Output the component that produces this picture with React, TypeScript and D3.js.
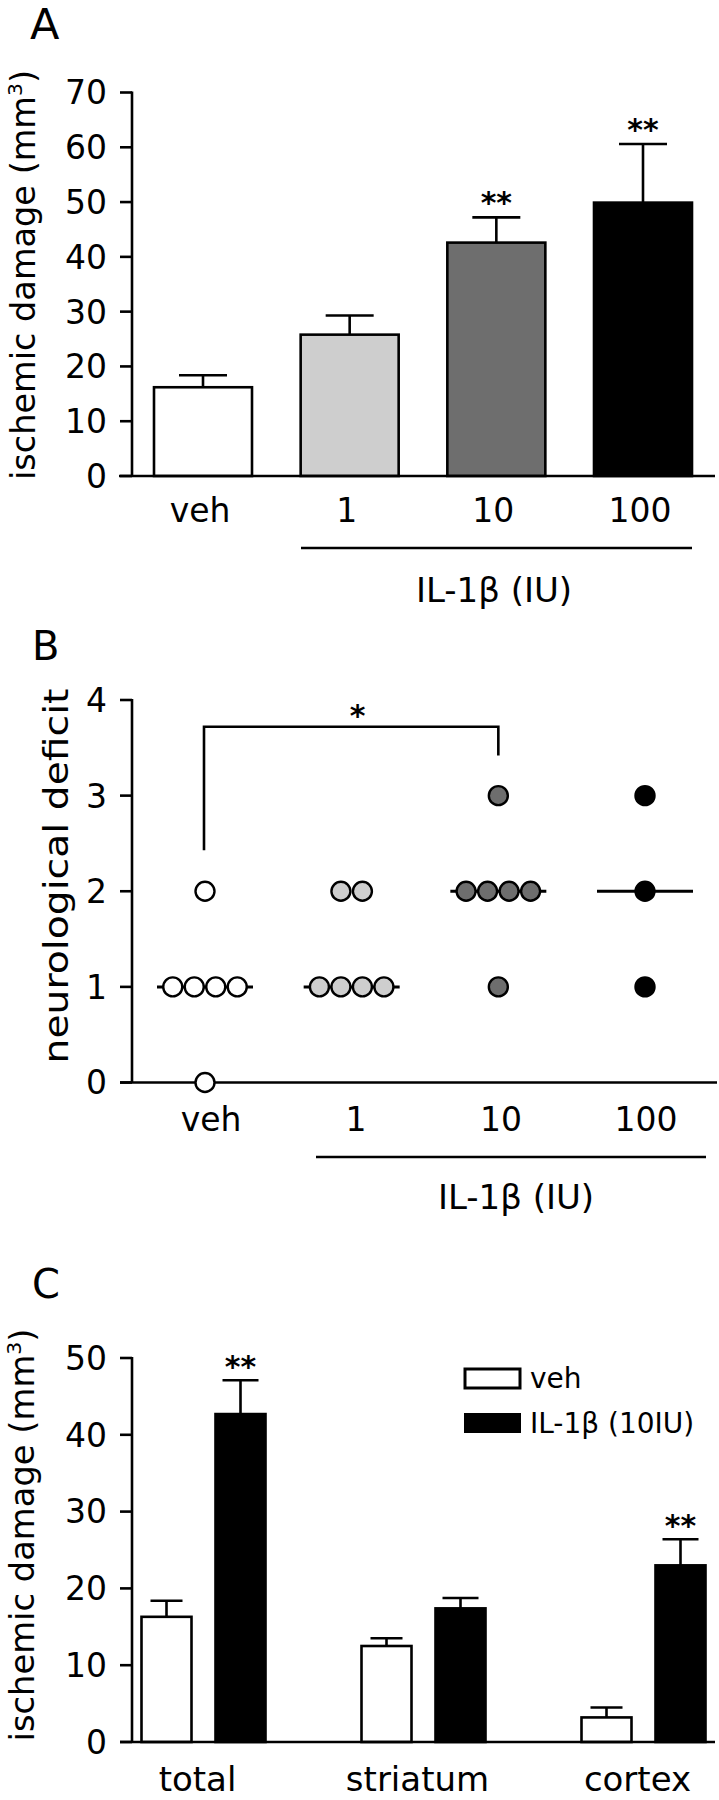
import React from "react";
import * as d3 from "d3";

// ---------- Panel A data ----------
const doseCats = ["veh", "1", "10", "100"];
const damageMean = [16.2, 25.8, 42.6, 49.9];
const damageSem = [2.2, 3.5, 4.6, 10.7];
const damageSig = ["", "", "**", "**"];
const damageTicks = [0, 10, 20, 30, 40, 50, 60, 70];
const doseFills = ["#ffffff", "#cecece", "#6e6e6e", "#000000"];

// ---------- Panel B data ----------
const scoreVeh = [2, 1, 1, 1, 1, 0];
const score1 = [2, 2, 1, 1, 1, 1];
const score10 = [3, 2, 2, 2, 2, 1];
const score100 = [3, 2, 1];
const scoreMedian = [1, 1, 2, 2];
const scoreTicks = [0, 1, 2, 3, 4];

// ---------- Panel C data ----------
const regions = ["total", "striatum", "cortex"];
const vehMean = [16.3, 12.5, 3.2];
const vehSem = [2.1, 1.0, 1.3];
const ilMean = [42.7, 17.4, 23.0];
const ilSem = [4.4, 1.35, 3.4];
const regionSig = ["**", "", "**"];
const regionTicks = [0, 10, 20, 30, 40, 50];

const FONT = "'DejaVu Sans', Verdana, sans-serif";
const SW = 2.6;
const TICK_FS = 33;

export default function App() {
  // scales
  const yA = d3.scaleLinear().domain([0, 70]).range([476, 92.5]);
  const xA = d3.scalePoint<string>().domain(doseCats).range([203, 643]);
  const barWA = 98;

  const yB = d3.scaleLinear().domain([0, 4]).range([1082.5, 700]);
  const xB = d3.scalePoint<string>().domain(doseCats).range([205, 645]);
  const xBLab = d3.scalePoint<string>().domain(doseCats).range([211, 646]);
  const scores = [scoreVeh, score1, score10, score100];

  const yC = d3.scaleLinear().domain([0, 50]).range([1742, 1358]);
  const xC = d3.scalePoint<string>().domain(regions).range([203.5, 643.5]);
  const barWC = 50;
  const offC = 37;

  const axisX0 = 132;

  const yTitle = (cx: number, cy: number, len: number, fs: number, content: React.ReactNode) => (
    <text
      transform={`translate(${cx},${cy}) rotate(-90)`}
      textAnchor="middle"
      fontSize={fs}
      fontFamily={FONT}
      textLength={len}
      lengthAdjust="spacingAndGlyphs"
    >
      {content}
    </text>
  );

  const mm3 = (
    <>
      ischemic damage (mm<tspan dy={-13} fontSize={20}>3</tspan>
      <tspan dy={13}>)</tspan>
    </>
  );

  const yAxis = (scale: d3.ScaleLinear<number, number>, ticks: number[], fs: number) => (
    <g>
      <line x1={axisX0} x2={axisX0} y1={scale(ticks[ticks.length - 1]) - 1} y2={scale(0)} stroke="#000" strokeWidth={SW} />
      {ticks.map((t) => (
        <g key={t}>
          <line x1={axisX0 - 12} x2={axisX0} y1={scale(t)} y2={scale(t)} stroke="#000" strokeWidth={SW} />
          <text x={107} y={scale(t)} dy="0.36em" textAnchor="end" fontSize={fs} fontFamily={FONT}>
            {t}
          </text>
        </g>
      ))}
    </g>
  );

  const errBar = (x: number, yTop: number, yBase: number, half: number, key: string) => (
    <g key={key}>
      <line x1={x} x2={x} y1={yBase} y2={yTop} stroke="#000" strokeWidth={SW} />
      <line x1={x - half} x2={x + half} y1={yTop} y2={yTop} stroke="#000" strokeWidth={SW} />
    </g>
  );

  return (
    <svg
      width={719}
      height={1800}
      viewBox="0 0 719 1800"
      style={{ position: "absolute", left: 0, top: 0, background: "#fff" }}
    >
      <rect x={0} y={0} width={719} height={1800} fill="#fff" />

      {/* ================= Panel A ================= */}
      <text x={30} y={39} fontSize={43} fontFamily={FONT}>A</text>
      {yTitle(35, 275, 410, 33, mm3)}
      {yAxis(yA, damageTicks, TICK_FS)}
      {doseCats.map((c, i) => {
        const x = xA(c)!;
        return (
          <g key={c}>
            {errBar(x, yA(damageMean[i] + damageSem[i]), yA(damageMean[i]), 24, "e" + c)}
            <rect
              x={x - barWA / 2}
              y={yA(damageMean[i])}
              width={barWA}
              height={yA(0) - yA(damageMean[i])}
              fill={doseFills[i]}
              stroke="#000"
              strokeWidth={SW}
            />
            {damageSig[i] && (
              <text x={x} y={yA(damageMean[i] + damageSem[i]) - 4} textAnchor="middle" fontSize={30} fontWeight="bold" fontFamily={FONT}>
                {damageSig[i]}
              </text>
            )}
            <text x={x - 3} y={522} textAnchor="middle" fontSize={33} fontFamily={FONT}>
              {c}
            </text>
          </g>
        );
      })}
      <line x1={119} x2={715} y1={yA(0)} y2={yA(0)} stroke="#000" strokeWidth={SW} />
      <line x1={301} x2={692} y1={548} y2={548} stroke="#000" strokeWidth={SW} />
      <text x={494} y={602} textAnchor="middle" fontSize={34} fontFamily={FONT}>IL-1β (IU)</text>

      {/* ================= Panel B ================= */}
      <text x={32} y={660} fontSize={40} fontFamily={FONT}>B</text>
      {yTitle(68, 876, 375, 34, "neurological deficit")}
      {yAxis(yB, scoreTicks, TICK_FS)}
      <line x1={120} x2={717} y1={yB(0)} y2={yB(0)} stroke="#000" strokeWidth={SW} />
      {doseCats.map((c, gi) => {
        const cx = xB(c)!;
        const vals = scores[gi];
        const levels = Array.from(new Set(vals));
        return (
          <g key={"b" + c}>
            <line x1={cx - 48} x2={cx + 48} y1={yB(scoreMedian[gi])} y2={yB(scoreMedian[gi])} stroke="#000" strokeWidth={3} />
            {levels.map((lv) => {
              const n = vals.filter((v) => v === lv).length;
              return d3.range(n).map((k) => (
                <circle
                  key={lv + "-" + k}
                  cx={cx + (k - (n - 1) / 2) * 21.5}
                  cy={yB(lv)}
                  r={9.5}
                  fill={doseFills[gi]}
                  stroke="#000"
                  strokeWidth={2.4}
                />
              ));
            })}
            <text x={xBLab(c)!} y={1131} textAnchor="middle" fontSize={33} fontFamily={FONT}>
              {c}
            </text>
          </g>
        );
      })}
      {/* significance bracket veh vs 10 */}
      <path
        d={`M${xB("veh")! - 1},${yB(2.43)} L${xB("veh")! - 1},${yB(3.72)} L${xB("10")!},${yB(3.72)} L${xB("10")!},${yB(3.42)}`}
        fill="none"
        stroke="#000"
        strokeWidth={SW}
      />
      <text x={(xB("veh")! + xB("10")!) / 2 + 6} y={yB(3.72) - 1} textAnchor="middle" fontSize={30} fontWeight="bold" fontFamily={FONT}>
        *
      </text>
      <line x1={316} x2={706} y1={1157} y2={1157} stroke="#000" strokeWidth={SW} />
      <text x={516} y={1209} textAnchor="middle" fontSize={34} fontFamily={FONT}>IL-1β (IU)</text>

      {/* ================= Panel C ================= */}
      <text x={32} y={1298} fontSize={40} fontFamily={FONT}>C</text>
      {yTitle(34, 1535, 413, 33, mm3)}
      {yAxis(yC, regionTicks, TICK_FS)}
      {regions.map((r, i) => {
        const gx = xC(r)!;
        const xv = gx - offC;
        const xi = gx + offC;
        return (
          <g key={r}>
            {errBar(xv, yC(vehMean[i] + vehSem[i]), yC(vehMean[i]), 16, "ev" + r)}
            <rect x={xv - barWC / 2} y={yC(vehMean[i])} width={barWC} height={yC(0) - yC(vehMean[i])} fill="#fff" stroke="#000" strokeWidth={SW} />
            {errBar(xi, yC(ilMean[i] + ilSem[i]), yC(ilMean[i]), 18, "ei" + r)}
            <rect x={xi - barWC / 2} y={yC(ilMean[i])} width={barWC} height={yC(0) - yC(ilMean[i])} fill="#000" stroke="#000" strokeWidth={SW} />
            {regionSig[i] && (
              <text x={xi} y={yC(ilMean[i] + ilSem[i]) - 3} textAnchor="middle" fontSize={30} fontWeight="bold" fontFamily={FONT}>
                {regionSig[i]}
              </text>
            )}
            <text x={gx - 6} y={1791} textAnchor="middle" fontSize={34} fontFamily={FONT}>
              {r}
            </text>
          </g>
        );
      })}
      <line x1={120} x2={715} y1={yC(0)} y2={yC(0)} stroke="#000" strokeWidth={SW} />
      {/* legend */}
      <rect x={465} y={1369} width={55} height={19} fill="#fff" stroke="#000" strokeWidth={3} />
      <text x={530} y={1388} fontSize={28} fontFamily={FONT}>veh</text>
      <rect x={464} y={1413} width={57} height={20} fill="#000" />
      <text x={530} y={1433} fontSize={28} fontFamily={FONT}>IL-1β (10IU)</text>
    </svg>
  );
}
